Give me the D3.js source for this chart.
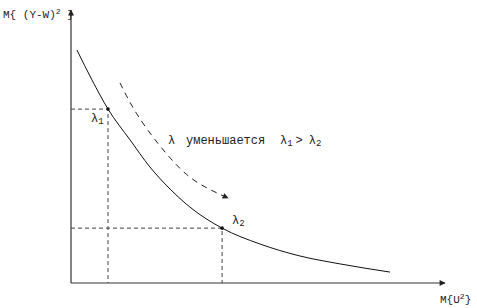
<!DOCTYPE html>
<html>
<head>
<meta charset="utf-8">
<script src="https://cdn.jsdelivr.net/npm/d3@7"></script>
<style>
  html, body { margin: 0; padding: 0; background: #fff; }
  svg text { font-family: "Liberation Mono", "DejaVu Sans Mono", monospace; fill: #222; }
</style>
</head>
<body>
<div id="hook-chart"></div>
<script>
'use strict';

// curve M{(Y-W)^2} against M{U^2}
var curveX = [0.16, 0.56, 0.99, 1.58, 2.11, 2.65, 3.18, 4.04, 5.05, 6.12, 7.19, 8.53];
var curveY = [8.53, 7.44, 6.37, 5.24, 4.25, 3.44, 2.78, 2.01, 1.43, 0.99, 0.70, 0.40];

// the two marked points
var pointNames = ['1', '2'];
var pointX = [0.99, 4.04];
var pointY = [6.37, 2.01];

// dashed arrow path
var arrowX = [1.31, 1.71, 2.38, 3.10, 3.72, 4.20];
var arrowY = [7.33, 6.23, 4.98, 3.88, 3.41, 3.11];

var options = {
  width: 477,
  height: 308,
  x0: 71,
  x1: 445,
  y0: 283,
  y1: 10
};

function update(options) {
  var svg = d3.select('#hook-chart')
    .append('svg')
    .attr('width', options.width)
    .attr('height', options.height);

  var x = d3.scaleLinear().domain([0, 10]).range([options.x0, options.x1]);
  var y = d3.scaleLinear().domain([0, 10]).range([options.y0, options.y1]);

  var defs = svg.append('defs');
  defs.append('marker')
    .attr('id', 'head')
    .attr('viewBox', '0 0 10 10')
    .attr('refX', 9)
    .attr('refY', 5)
    .attr('markerWidth', 8)
    .attr('markerHeight', 6)
    .attr('markerUnits', 'userSpaceOnUse')
    .attr('orient', 'auto')
    .append('path')
    .attr('d', 'M0,0 L10,5 L0,10 z')
    .style('fill', '#222');

  // axes
  svg.append('line')
    .attr('x1', x(0)).attr('y1', y(0))
    .attr('x2', x(10)).attr('y2', y(0))
    .attr('marker-end', 'url(#head)')
    .style('stroke', '#333').style('stroke-width', 1.2);
  svg.append('line')
    .attr('x1', x(0)).attr('y1', y(0))
    .attr('x2', x(0)).attr('y2', y(10))
    .attr('marker-end', 'url(#head)')
    .style('stroke', '#333').style('stroke-width', 1.2);

  // dashed guides
  var i;
  for (i = 0; i < pointX.length; i++) {
    svg.append('path')
      .attr('d', 'M' + x(0) + ',' + y(pointY[i]) + 'H' + x(pointX[i]) + 'V' + y(0))
      .style('fill', 'none')
      .style('stroke', '#444')
      .style('stroke-width', 1)
      .style('stroke-dasharray', '4,3');
  }

  // main curve
  var line = d3.line()
    .x(function(d, k) { return x(curveX[k]); })
    .y(function(d, k) { return y(curveY[k]); })
    .curve(d3.curveMonotoneX);
  svg.append('path')
    .attr('d', line(curveX))
    .style('fill', 'none')
    .style('stroke', '#111')
    .style('stroke-width', 1);

  // points
  for (i = 0; i < pointX.length; i++) {
    svg.append('circle')
      .attr('cx', x(pointX[i]))
      .attr('cy', y(pointY[i]))
      .attr('r', 1.8)
      .style('fill', '#111');
  }

  // point labels
  var lab1 = svg.append('text').attr('x', 91).attr('y', 122).style('font-size', '12px');
  lab1.append('tspan').text('λ');
  lab1.append('tspan').attr('dy', 2).style('font-size', '9px').text(pointNames[0]);

  var lab2 = svg.append('text').attr('x', 232).attr('y', 224).style('font-size', '12px');
  lab2.append('tspan').text('λ');
  lab2.append('tspan').attr('dy', 2).style('font-size', '9px').text(pointNames[1]);

  // dashed arrow
  var arrowLine = d3.line()
    .x(function(d, k) { return x(arrowX[k]); })
    .y(function(d, k) { return y(arrowY[k]); })
    .curve(d3.curveBasis);
  svg.append('path')
    .attr('d', arrowLine(arrowX))
    .attr('marker-end', 'url(#head)')
    .style('fill', 'none')
    .style('stroke', '#222')
    .style('stroke-width', 1)
    .style('stroke-dasharray', '6,5');

  // annotation
  svg.append('text').attr('x', 168).attr('y', 144).style('font-size', '12px').text('λ');
  svg.append('text').attr('x', 186).attr('y', 144).style('font-size', '12px').text('уменьшается');
  var rel = svg.append('text').attr('x', 280).attr('y', 144).style('font-size', '12px');
  rel.append('tspan').text('λ');
  rel.append('tspan').attr('dy', 2).style('font-size', '9px').text(pointNames[0]);
  rel.append('tspan').attr('dy', -2).attr('dx', 3).text('>');
  rel.append('tspan').attr('dx', 6).text('λ');
  rel.append('tspan').attr('dy', 2).style('font-size', '9px').text(pointNames[1]);

  // axis labels
  var yl = svg.append('text').attr('x', 3).attr('y', 18).style('font-size', '11px');
  yl.append('tspan').text('M{ (Y-W)');
  yl.append('tspan').attr('dy', -4).style('font-size', '8px').text('2');
  yl.append('tspan').attr('dy', 4).text(' }');

  var xl = svg.append('text').attr('x', 440).attr('y', 303).style('font-size', '11px');
  xl.append('tspan').text('M{U');
  xl.append('tspan').attr('dy', -4).style('font-size', '8px').text('2');
  xl.append('tspan').attr('dy', 4).text('}');
}

update(options);
</script>
</body>
</html>
